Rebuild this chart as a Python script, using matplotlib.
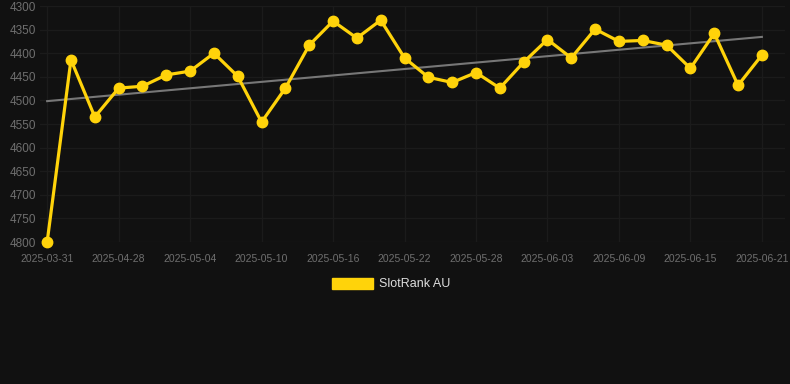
import numpy as np
import matplotlib
matplotlib.use('Agg')
import matplotlib.pyplot as plt
from matplotlib.patches import Patch

# 数据
dates = ['2025-03-31', '2025-04-24', '2025-04-26', '2025-04-28', '2025-04-30', '2025-05-02',
         '2025-05-04', '2025-05-06', '2025-05-08', '2025-05-10', '2025-05-12', '2025-05-14',
         '2025-05-16', '2025-05-18', '2025-05-20', '2025-05-22', '2025-05-24', '2025-05-26',
         '2025-05-28', '2025-05-30', '2025-06-01', '2025-06-03', '2025-06-05', '2025-06-07',
         '2025-06-09', '2025-06-11', '2025-06-13', '2025-06-15', '2025-06-17', '2025-06-19',
         '2025-06-21']
rank = [4800, 4414, 4535, 4474, 4470, 4446, 4438, 4400, 4449, 4546, 4474, 4383,
        4332, 4368, 4330, 4410, 4451, 4462, 4441, 4474, 4419, 4371, 4410, 4349,
        4375, 4373, 4383, 4432, 4358, 4468, 4404]
y_ticks = [4300, 4350, 4400, 4450, 4500, 4550, 4600, 4650, 4700, 4750, 4800]
series_name = 'SlotRank AU'

plt.rcParams['font.family'] = ['Liberation Sans', 'DejaVu Sans']

bg = '#111111'
fig = plt.figure(figsize=(7.9, 3.84), dpi=100, facecolor=bg)
ax = fig.add_axes([40 / 790, 1 - 242 / 384, 745 / 790, 236 / 384], facecolor=bg)

x = np.arange(len(dates))

# 趋势线
coef = np.polyfit(x, rank, 1)
ax.plot(x, np.polyval(coef, x), color='#777777', linewidth=1.5, zorder=2)

# 主折线
ax.plot(x, rank, color='#FFD30A', linewidth=2.3, marker='o', markersize=7.5,
        zorder=3, clip_on=False)

ax.set_ylim(4800, 4300)
ax.set_yticks(y_ticks)
ax.set_xlim(-0.3, 30.97)
ax.set_xticks(x[::3])
ax.set_xticklabels(dates[::3])

ax.grid(True, color='#1b1b1b', linewidth=0.9)
ax.set_axisbelow(True)
for s in ax.spines.values():
    s.set_visible(False)
ax.tick_params(axis='both', length=0, colors='#6f6f6f')
ax.tick_params(axis='x', labelsize=7.5, pad=9)
ax.tick_params(axis='y', labelsize=8.5, pad=3)

handle = Patch(facecolor='#FFD30A', edgecolor='#FFD30A')
fig.legend([handle], [series_name], loc='center', bbox_to_anchor=(391 / 790, 1 - 284 / 384),
           frameon=False, fontsize=9, labelcolor='#dddddd', handlelength=3.3,
           handleheight=1.0, handletextpad=0.5)

plt.savefig('out.png', dpi=100, facecolor=bg)
plt.close()
